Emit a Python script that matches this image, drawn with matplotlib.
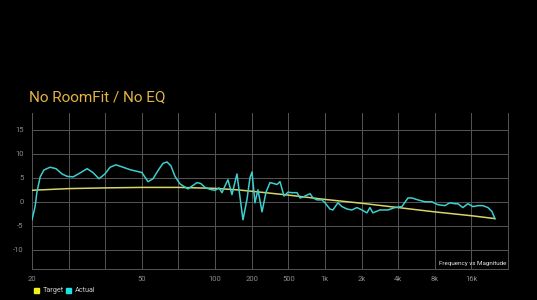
import numpy as np
import matplotlib
matplotlib.use("Agg")
import matplotlib.pyplot as plt
from matplotlib.patches import Rectangle

plt.rcParams['font.family'] = ['Roboto', 'DejaVu Sans']

# ---- data ----
actual_freq = [20, 20.7, 21.1, 21.9, 22.8, 24.4, 26.1, 27.9, 29.5, 31.1, 32.8, 34.7, 36.3, 38.1, 39.9,
               41.2, 42.7, 44.6, 46.5, 48.2, 50.0, 52.9, 55.4, 58.0, 60.7, 63.0, 65.3, 67.8,
               71.0, 73.8, 76.8, 80.6, 83.8, 87.1, 90.6, 95.1, 100,
               107.7, 114.0, 120.6, 127.6, 137.7, 151.3, 160.2, 169.6, 182.9, 193.6,
               201.5, 217, 234, 259, 286, 316, 349, 377, 406, 449, 496,
               536, 590, 624, 660, 712, 754, 798, 861, 946,
               1000, 1099, 1163, 1279, 1380, 1517, 1667, 1833, 2014, 2214, 2344, 2481, 2832, 3295, 3764,
               4297, 4815, 5193, 5816, 6640, 7579, 8490, 9693, 10653, 11713, 12397, 13625, 14981,
               16460, 18094, 19890, 21867, 23590, 24970]
actual_db = [-3.75, -1.0, 1.9, 5.2, 6.6, 7.2, 6.9, 5.8, 5.3, 5.2, 6.0, 6.9, 6.1, 4.8, 5.8,
             7.2, 7.7, 7.2, 6.7, 6.4, 6.1, 4.2, 4.8, 6.5, 8.0, 8.3, 7.5, 5.3,
             3.75, 3.2, 2.7, 3.4, 4.0, 3.8, 3.0, 2.6, 2.4,
             2.9, 1.9, 3.3, 4.6, 1.5, 5.8, 1.0, -3.75, 0.5, 5.0,
             6.2, -0.2, 2.5, -2.1, 2.0, 4.0, 3.8, 3.6, 4.2, 1.2, 2.0,
             1.9, 1.9, 0.8, 1.0, 1.4, 1.7, 0.8, 0.4, 0.4,
             -0.2, -1.5, -1.7, -0.2, -1.0, -1.5, -1.7, -1.2, -1.7, -2.3, -1.2, -2.3, -1.7, -1.7, -1.2,
             -1.0, 0.8, 0.8, 0.4, 0.0, 0.0, -0.6, -0.8, -0.2, -0.4, -0.4, -1.2, -0.4,
             -1.0, -0.8, -0.8, -1.2, -2.0, -3.5]

target_freq = [20, 30, 40, 50, 70, 100, 150, 200, 316, 500, 1000, 2000, 4000, 8000, 16000, 24970]
target_db = [2.4, 2.75, 2.9, 3.0, 3.0, 2.8, 2.5, 2.2, 1.8, 1.4, 0.5, -0.3, -1.2, -2.1, -2.9, -3.5]

grid_freqs = [20, 30, 40, 50, 70, 100, 200, 500, 1000, 2000, 4000, 8000, 16000, 32000]
x_labels = ['20', '', '', '50', '', '100', '200', '500', '1k', '2k', '4k', '8k', '16k', '']
y_ticks = [-10, -5, 0, 5, 10, 15]

title = "No RoomFit / No EQ"
corner_text = "Frequency vs Magnitude"

# ---- scale: grid lines evenly spaced ----
logA = np.log10(np.array(grid_freqs, dtype=float))
posA = np.arange(len(grid_freqs), dtype=float)

def fwd(f):
    f = np.clip(np.asarray(f, dtype=float), 1e-3, None)
    return np.interp(np.log10(f), logA, posA)

def inv(u):
    return 10 ** np.interp(np.asarray(u, dtype=float), posA, logA)

bg = '#000000'
grid_c = '#555555'
tick_c = '#8c8c8c'
actual_c = '#3ccfcf'
target_c = '#d8d46a'

fig = plt.figure(figsize=(5.37, 3.0), dpi=100, facecolor=bg)
ax = fig.add_axes([32/537, 1-269/300, (508-32)/537, (269-113)/300])
ax.set_facecolor(bg)
ax.set_xscale('function', functions=(fwd, inv))
ax.set_xlim(20, 32000)
ax.set_ylim(-14, 18.5)

ax.plot(target_freq, target_db, color=target_c, lw=1.1, zorder=3)
ax.plot(actual_freq, actual_db, color=actual_c, lw=1.1, zorder=4)

ax.set_xticks(grid_freqs)
ax.set_xticklabels(x_labels)
ax.xaxis.set_minor_locator(matplotlib.ticker.NullLocator())
ax.set_yticks(y_ticks)
ax.set_yticklabels([str(v) for v in y_ticks])
ax.tick_params(axis='both', length=0, colors=tick_c, labelsize=5.5)
ax.tick_params(axis='x', pad=5)
ax.tick_params(axis='y', pad=6)
ax.grid(True, color=grid_c, lw=0.7)
ax.spines['top'].set_visible(False)
for s in ['left', 'right', 'bottom']:
    ax.spines[s].set_color(grid_c)
    ax.spines[s].set_linewidth(0.7)

ax.text(0.996, 0.02, corner_text, transform=ax.transAxes, ha='right', va='bottom',
        color='#e8e8e8', fontsize=4.5)

fig.text(29/537, 1-97/300, title, color='#e2b445', fontsize=11, ha='left', va='center')

# legend
fig.patches.append(Rectangle((34/537, 1-293/300), 5/537, 5/300, transform=fig.transFigure,
                             color='#f0f020'))
fig.text(43/537, 1-290.5/300, 'Target', color='#cccccc', fontsize=5.2, va='center')
fig.patches.append(Rectangle((66/537, 1-293/300), 5/537, 5/300, transform=fig.transFigure,
                             color='#20e0e0'))
fig.text(75/537, 1-290.5/300, 'Actual', color='#cccccc', fontsize=5.2, va='center')

fig.savefig('out.png', dpi=100, facecolor=bg)
